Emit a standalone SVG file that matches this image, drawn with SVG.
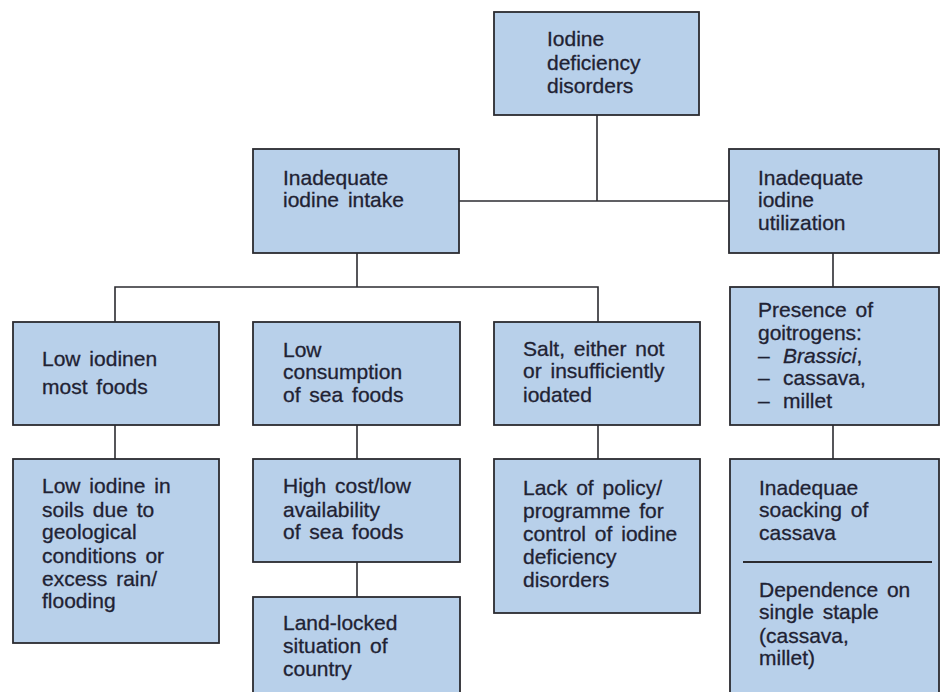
<svg xmlns="http://www.w3.org/2000/svg" width="946" height="692" viewBox="0 0 946 692">
<style>
.box{fill:#b8d0ea;stroke:#2b2b30;stroke-width:1.8}
.con{fill:none;stroke:#2b2b30;stroke-width:1.6}
text{font-family:"Liberation Sans",Arial,sans-serif;font-size:21px;fill:#1f2233;stroke:#1f2233;stroke-width:0.3;word-spacing:3px}
</style>
<rect width="946" height="692" fill="#ffffff"/>
<g id="connectors" class="con">
<path d="M597 115V201"/>
<path d="M459 201H729"/>
<path d="M357 253V287"/>
<path d="M115 322V287H598V322"/>
<path d="M115 425V459"/>
<path d="M357 425V459"/>
<path d="M598 425V459"/>
<path d="M357 562V597"/>
<path d="M833 253V287"/>
<path d="M833 425V459"/>
</g>
<g id="n-idd"><rect class="box" x="494" y="12" width="205" height="103"/>
<text x="547" y="46">Iodine</text><text x="547" y="70">deficiency</text><text x="547" y="93">disorders</text></g>
<g id="n-intake"><rect class="box" x="253" y="149" width="206" height="104"/>
<text x="283" y="185">Inadequate</text><text x="283" y="207">iodine intake</text></g>
<g id="n-util"><rect class="box" x="729" y="149" width="210" height="104"/>
<text x="758" y="185">Inadequate</text><text x="758" y="207">iodine</text><text x="758" y="230">utilization</text></g>
<g id="n-lowfoods"><rect class="box" x="13" y="322" width="206" height="103"/>
<text x="42" y="366">Low iodinen</text><text x="42" y="394">most foods</text></g>
<g id="n-seafood"><rect class="box" x="253" y="322" width="207" height="103"/>
<text x="283" y="357">Low</text><text x="283" y="379">consumption</text><text x="283" y="402">of sea foods</text></g>
<g id="n-salt"><rect class="box" x="494" y="322" width="206" height="103"/>
<text x="523" y="356">Salt, either not</text><text x="523" y="378">or insufficiently</text><text x="523" y="402">iodated</text></g>
<g id="n-goitro"><rect class="box" x="730" y="287" width="209" height="138"/>
<text x="758" y="317">Presence of</text><text x="758" y="340">goitrogens:</text>
<text x="758" y="363">–<tspan x="783" font-style="italic">Brassici</tspan>,</text>
<text x="758" y="385">–<tspan x="783">cassava,</tspan></text>
<text x="758" y="408">–<tspan x="783">millet</tspan></text></g>
<g id="n-soils"><rect class="box" x="13" y="459" width="206" height="184"/>
<text x="42" y="493">Low iodine in</text><text x="42" y="517">soils due to</text><text x="42" y="539">geological</text><text x="42" y="563">conditions or</text><text x="42" y="586">excess rain/</text><text x="42" y="608">flooding</text></g>
<g id="n-cost"><rect class="box" x="253" y="459" width="207" height="103"/>
<text x="283" y="493">High cost/low</text><text x="283" y="517">availability</text><text x="283" y="539">of sea foods</text></g>
<g id="n-landlocked"><rect class="box" x="253" y="597" width="207" height="110"/>
<text x="283" y="630">Land-locked</text><text x="283" y="653">situation of</text><text x="283" y="676">country</text></g>
<g id="n-policy"><rect class="box" x="494" y="459" width="206" height="154"/>
<text x="523" y="495">Lack of policy/</text><text x="523" y="518">programme for</text><text x="523" y="541">control of iodine</text><text x="523" y="564">deficiency</text><text x="523" y="587">disorders</text></g>
<g id="n-cassava"><rect class="box" x="730" y="459" width="209" height="250"/>
<text x="759" y="495">Inadequae</text><text x="759" y="517">soacking of</text><text x="759" y="540">cassava</text>
<line x1="743" y1="562" x2="932" y2="562" stroke="#2b2b30" stroke-width="1.8"/>
<text x="759" y="597">Dependence on</text><text x="759" y="619">single staple</text><text x="759" y="643">(cassava,</text><text x="759" y="665">millet)</text></g>
</svg>
